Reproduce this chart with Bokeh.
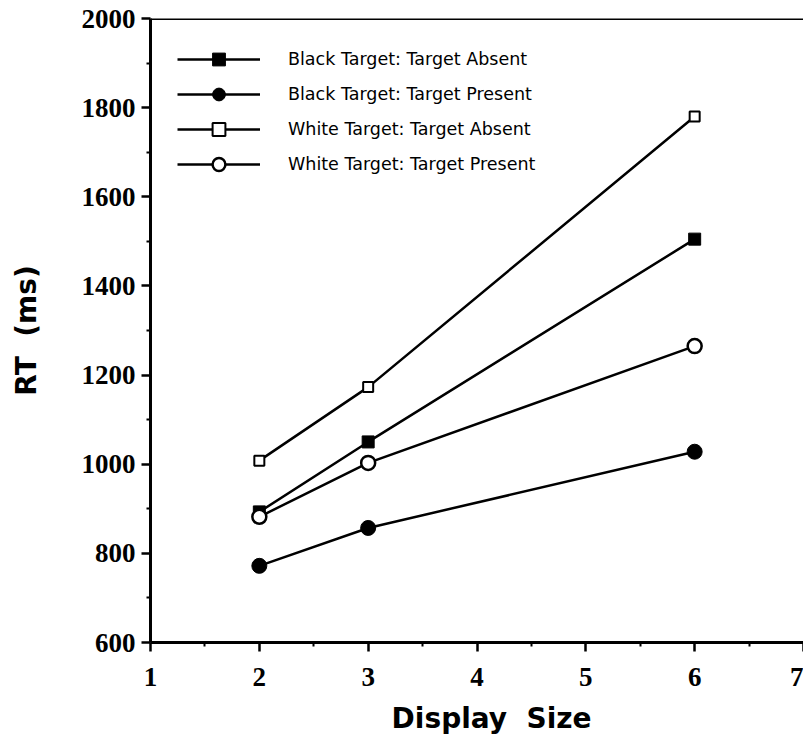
from bokeh.plotting import figure
from bokeh.models import Range1d, FixedTicker, Span, Legend, LegendItem, ColumnDataSource
from bokeh.embed import file_html
from bokeh.resources import INLINE

display_size = [2, 3, 6]
black_absent = [893, 1050, 1505]
black_present = [772, 857, 1028]
white_absent = [1008, 1173, 1780]
white_present = [882, 1003, 1265]

labels = ["Black Target: Target Absent", "Black Target: Target Present",
          "White Target: Target Absent", "White Target: Target Present"]
x_ticks = [1, 2, 3, 4, 5, 6, 7]
x_minor = [1.5, 2.5, 3.5, 4.5, 5.5, 6.5]
y_ticks = [600, 800, 1000, 1200, 1400, 1600, 1800, 2000]
y_minor = [700, 900, 1100, 1300, 1500, 1700, 1900]

p = figure(width=803, height=737, output_backend="svg", toolbar_location=None,
           x_range=Range1d(1, 7.0), y_range=Range1d(600, 2000),
           min_border_left=150, min_border_top=18, min_border_bottom=94, min_border_right=0)
p.outline_line_color = None
p.grid.grid_line_color = None
p.background_fill_color = "white"

for ax in (p.xaxis[0], p.yaxis[0]):
    ax.axis_line_width = 3
    ax.axis_line_color = "black"
    ax.major_tick_line_width = 2.5
    ax.minor_tick_line_width = 2
    ax.major_tick_in = 0
    ax.major_tick_out = 9
    ax.minor_tick_in = 0
    ax.minor_tick_out = 4
    ax.major_label_text_font = "Liberation Serif"
    ax.major_label_text_font_style = "bold"
    ax.major_label_text_font_size = "27px"
    ax.major_label_text_color = "black"
    ax.axis_label_text_font = "DejaVu Sans"
    ax.axis_label_text_font_style = "bold"
    ax.axis_label_text_font_size = "28px"
    ax.axis_label_text_color = "black"

p.xaxis.ticker = FixedTicker(ticks=x_ticks, minor_ticks=x_minor)
p.yaxis.ticker = FixedTicker(ticks=y_ticks, minor_ticks=y_minor)
p.xaxis.major_label_standoff = 16
p.yaxis.major_label_standoff = 6
p.xaxis.axis_label = "\u00a0\u00a0\u00a0Display\u00a0\u00a0Size"
p.yaxis.axis_label = "RT\u00a0\u00a0(ms)"
p.xaxis.axis_label_standoff = 13
p.yaxis.axis_label_standoff = 36

p.add_layout(Span(location=2000, dimension="width", line_color="black", line_width=3))

series = [black_absent, black_present, white_absent, white_present]
markers = ["square", "circle", "square", "circle"]
fills = ["black", "black", "white", "white"]
sizes = [12, 15, 10, 14]
mlw = [1, 1, 2, 2.5]

items = []
for vals, m, f, s, lw, lab in zip(series, markers, fills, sizes, mlw, labels):
    src = ColumnDataSource(dict(x=display_size, y=vals))
    r1 = p.line("x", "y", source=src, line_color="black", line_width=2.5)
    r2 = p.scatter("x", "y", source=src, marker=m, size=s, fill_color=f,
                   line_color="black", line_width=lw)
    items.append(LegendItem(label=lab, renderers=[r1, r2]))

legend = Legend(items=items, location=(27, 462), margin=0, padding=0,
                glyph_width=83, glyph_height=32, label_height=32, spacing=3,
                label_standoff=28, label_text_font="DejaVu Sans",
                label_text_font_size="17.5px", label_text_color="black",
                border_line_color=None, background_fill_alpha=0)
p.add_layout(legend)

open("out.html", "w").write(file_html(p, INLINE))
